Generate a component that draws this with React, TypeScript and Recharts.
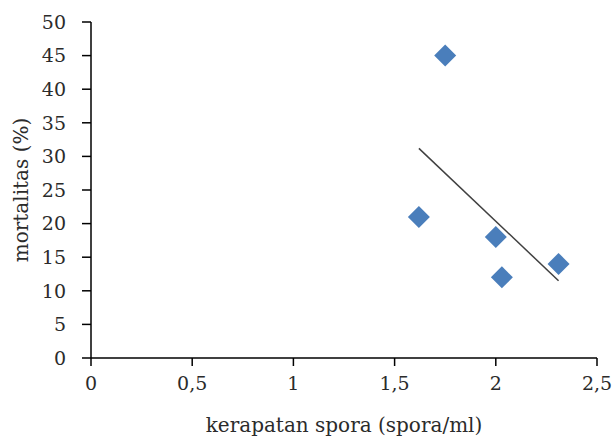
import React from "react";
import { ScatterChart, Scatter, XAxis, YAxis } from "recharts";

// spore density (spora/ml) vs mortality (%)
const density = [1.62, 1.75, 2.0, 2.03, 2.31];
const mortality = [21, 45, 18, 12, 14];

// linear trendline end points
const trendX = [1.62, 2.31];
const trendY = [31.2, 11.5];

const xTicks = [0, 0.5, 1, 1.5, 2, 2.5];
const yTicks = [0, 5, 10, 15, 20, 25, 30, 35, 40, 45, 50];

const points = density.map((x, i) => ({ x, y: mortality[i] }));
const trend = trendX.map((x, i) => ({ x, y: trendY[i] }));

const font = "'DejaVu Serif', 'Liberation Serif', serif";
const textColor = "#2b2b2b";

const Diamond = (props: any) => {
  const { cx, cy } = props;
  const r = 11;
  return (
    <polygon
      points={`${cx},${cy - r} ${cx + r},${cy} ${cx},${cy + r} ${cx - r},${cy}`}
      fill="#4A7EBB"
    />
  );
};

const NoDot = () => null;

export default function App() {
  return (
    <div style={{ position: "absolute", left: 0, top: 0, background: "#fff" }}>
      <ScatterChart
        width={614}
        height={445}
        margin={{ top: 22, right: 17, bottom: 27, left: 31 }}
      >
        <XAxis
          type="number"
          dataKey="x"
          domain={[0, 2.5]}
          ticks={xTicks}
          tickFormatter={(v: number) => String(v).replace(".", ",")}
          axisLine={{ stroke: "#000", strokeWidth: 1.5 }}
          tickLine={{ stroke: "#000", strokeWidth: 1.5 }}
          tickSize={8}
          tick={{ fill: textColor, fontSize: 19, fontFamily: font, dy: 9 }}
          height={60}
          label={{
            value: "kerapatan spora (spora/ml)",
            position: "insideBottom",
            offset: -14,
            fill: textColor,
            fontSize: 20,
            fontFamily: font,
          }}
        />
        <YAxis
          type="number"
          dataKey="y"
          domain={[0, 50]}
          ticks={yTicks}
          interval={0}
          axisLine={{ stroke: "#000", strokeWidth: 1.5 }}
          tickLine={{ stroke: "#000", strokeWidth: 1.5 }}
          tickSize={9}
          tick={{ fill: textColor, fontSize: 19, fontFamily: font, dx: -14 }}
          width={60}
          label={{
            value: "mortalitas (%)",
            angle: -90,
            position: "insideLeft",
            offset: -10,
            style: { textAnchor: "middle" },
            fill: textColor,
            fontSize: 20,
            fontFamily: font,
          }}
        />
        <Scatter
          data={trend}
          line={{ stroke: "#404040", strokeWidth: 1.5 }}
          shape={NoDot}
          isAnimationActive={false}
        />
        <Scatter data={points} shape={Diamond} isAnimationActive={false} />
      </ScatterChart>
    </div>
  );
}
